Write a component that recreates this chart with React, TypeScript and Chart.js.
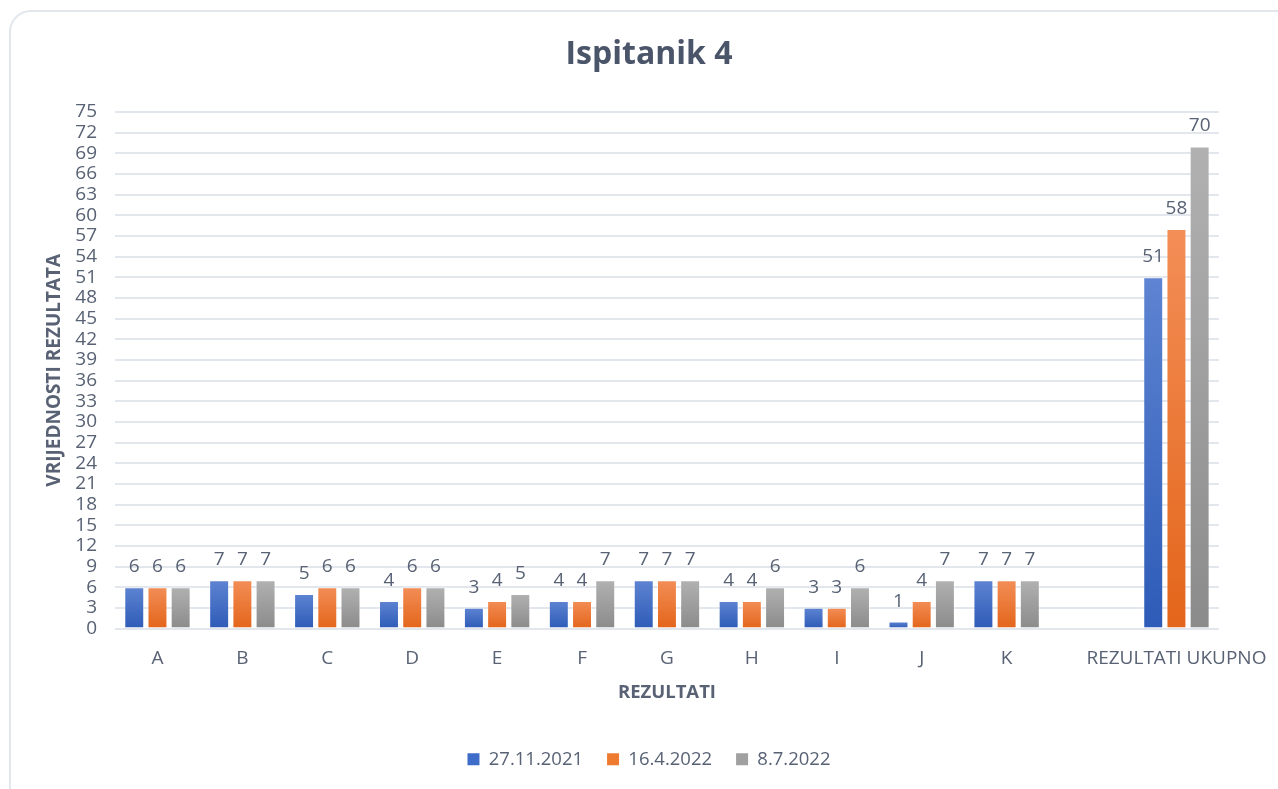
import React, { useEffect, useRef } from "react";
import { Chart, registerables } from "chart.js";

Chart.register(...registerables);

const categories = ["A", "B", "C", "D", "E", "F", "G", "H", "I", "J", "K", "", "REZULTATI UKUPNO"];
const series1Label = "27.11.2021";
const series2Label = "16.4.2022";
const series3Label = "8.7.2022";
const series1 = [6, 7, 5, 4, 3, 4, 7, 4, 3, 1, 7, null, 51];
const series2 = [6, 7, 6, 6, 4, 4, 7, 4, 3, 4, 7, null, 58];
const series3 = [6, 7, 6, 6, 5, 7, 7, 6, 6, 7, 7, null, 70];
const yTickMin = 0;
const yTickMax = 75;
const yTickStep = 3;

const TEXT = "#586274";
const GRID = "#e2e6ed";
const FONT = "'Open Sans', 'DejaVu Sans', sans-serif";

const palettes = [
  { top: "#5e84d2", bottom: "#2d5bb7", solid: "#3f6cc8" },
  { top: "#f38e57", bottom: "#e3651a", solid: "#ee7a30" },
  { top: "#b1b1b1", bottom: "#8b8b8b", solid: "#a0a0a0" },
];

function gradientFill(idx: number) {
  return (ctx: any) => {
    const chart = ctx.chart;
    const p = palettes[idx];
    const y = chart.scales && chart.scales.y;
    if (!y || ctx.type !== "data" || ctx.raw == null) return p.solid;
    const y0 = y.getPixelForValue(ctx.raw);
    const y1 = y.getPixelForValue(0);
    if (!isFinite(y0) || !isFinite(y1) || y0 === y1) return p.solid;
    const g = chart.ctx.createLinearGradient(0, y0, 0, y1);
    g.addColorStop(0, p.top);
    g.addColorStop(1, p.bottom);
    return g;
  };
}

const valueLabels = {
  id: "valueLabels",
  afterDatasetsDraw(chart: any) {
    const ctx = chart.ctx;
    ctx.save();
    ctx.font = `19px ${FONT}`;
    ctx.fillStyle = TEXT;
    ctx.textAlign = "center";
    ctx.textBaseline = "alphabetic";
    chart.data.datasets.forEach((ds: any, di: number) => {
      const meta = chart.getDatasetMeta(di);
      meta.data.forEach((el: any, i: number) => {
        const v = ds.data[i];
        if (v == null) return;
        ctx.fillText(String(v), el.x, el.y - 15);
      });
    });
    ctx.restore();
  },
};

export default function App() {
  const ref = useRef<HTMLCanvasElement | null>(null);

  useEffect(() => {
    if (!ref.current) return;
    Chart.defaults.font.family = FONT;
    Chart.defaults.color = TEXT;
    const mk = (label: string, data: (number | null)[], idx: number) => ({
      label,
      data,
      backgroundColor: gradientFill(idx),
      borderColor: "rgba(255,255,255,0.35)",
      borderWidth: 1,
      categoryPercentage: 0.82,
      barPercentage: 0.86,
    });
    const chart = new Chart(ref.current, {
      type: "bar",
      data: {
        labels: categories,
        datasets: [
          mk(series1Label, series1, 0),
          mk(series2Label, series2, 1),
          mk(series3Label, series3, 2),
        ],
      },
      options: {
        responsive: false,
        animation: false,
        devicePixelRatio: 1,
        layout: { padding: { top: 0, bottom: 10.5, left: 0, right: 0 } },
        plugins: {
          title: {
            display: true,
            text: "Ispitanik 4",
            color: "#4a5569",
            font: { size: 32, weight: "bold", family: FONT },
            padding: { top: 36, bottom: 37.6 },
          },
          legend: {
            position: "bottom",
            labels: {
              color: TEXT,
              font: { size: 18.5, family: FONT },
              boxWidth: 12,
              boxHeight: 12,
              padding: 24,
              generateLabels: (c: any) =>
                c.data.datasets.map((ds: any, i: number) => ({
                  text: ds.label,
                  fillStyle: palettes[i].solid,
                  strokeStyle: palettes[i].solid,
                  lineWidth: 0,
                  hidden: false,
                  datasetIndex: i,
                  fontColor: TEXT,
                })),
            },
          },
          tooltip: { enabled: false },
        },
        scales: {
          x: {
            grid: { display: false, drawTicks: false },
            border: { display: false },
            ticks: { color: TEXT, font: { size: 19, family: FONT }, padding: 19, maxRotation: 0, autoSkip: false },
            title: {
              display: true,
              text: "REZULTATI",
              color: TEXT,
              font: { size: 18.5, weight: "bold", family: FONT },
              padding: { top: 0, bottom: 22.4 },
            },
            afterFit: (s: any) => {
              s.height = 97.5;
            },
          },
          y: {
            min: yTickMin,
            max: yTickMax,
            grid: { color: GRID, lineWidth: 2, drawTicks: false },
            border: { display: false },
            ticks: {
              stepSize: yTickStep,
              autoSkip: false,
              color: TEXT,
              font: { size: 19, family: FONT },
              padding: 18,
            },
            title: {
              display: true,
              text: "VRIJEDNOSTI REZULTATA",
              color: TEXT,
              font: { size: 19, weight: "bold", family: FONT },
              padding: { top: 33.6, bottom: 0 },
            },
            afterFit: (s: any) => {
              s.width = 105;
            },
          },
          yR: {
            position: "right",
            display: true,
            grid: { display: false, drawTicks: false },
            border: { display: false },
            ticks: { display: false },
            afterFit: (s: any) => {
              s.width = 67;
            },
          },
        },
      },
      plugins: [valueLabels],
    } as any);
    return () => chart.destroy();
  }, []);

  return (
    <div style={{ position: "fixed", inset: 0, overflow: "hidden", background: "#fff" }}>
      <div
        style={{
          position: "absolute",
          left: 9,
          top: 10,
          width: 1320,
          height: 820,
          border: "2px solid #e2e6ed",
          borderRadius: 22,
          boxSizing: "border-box",
        }}
      />
      <canvas
        ref={ref}
        width={1278}
        height={789}
        style={{ position: "absolute", left: 10, top: 0, width: 1278, height: 789 }}
      />
    </div>
  );
}
